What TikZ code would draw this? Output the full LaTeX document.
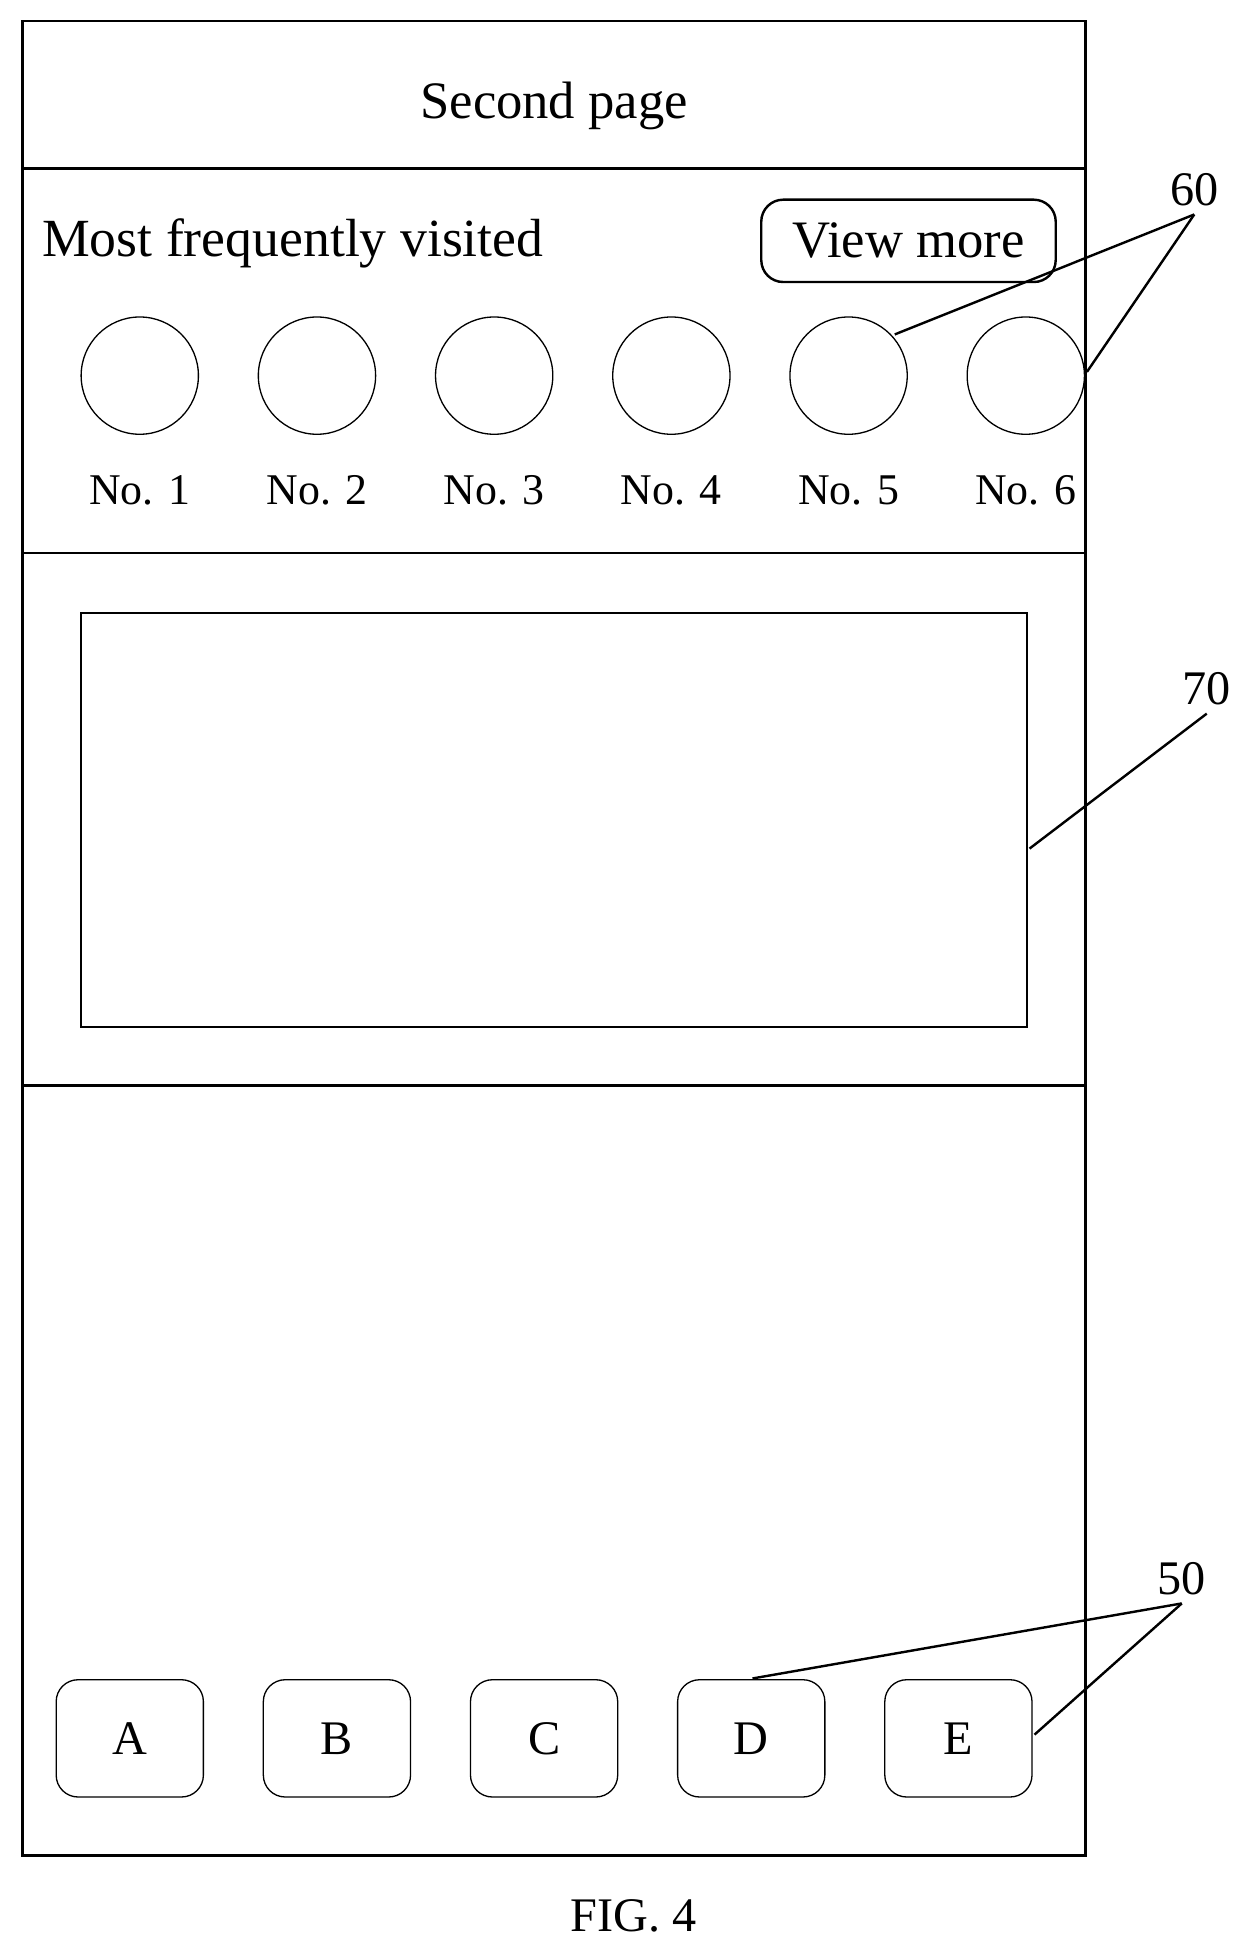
\documentclass[tikz,border=0pt]{standalone}
\usepackage{fontspec}
\setmainfont{Liberation Serif}
\usetikzlibrary{positioning}
\tikzset{
  btn/.style={draw, rounded corners=10pt, minimum width=2.36cm, minimum height=1.88cm, font=\fontsize{22}{26}\selectfont},
  icon/.style={draw, circle, minimum size=1.88cm},
  lbl/.style={font=\fontsize{20}{24}\selectfont},
}
\begin{document}
\begin{tikzpicture}[x=0.02cm, y=-0.02cm, line width=1.1pt]
  \useasboundingbox (0,0) rectangle (1000,1561);
  % frame and bands
  \draw (18,17) rectangle (870,1487);
  \draw (18,135) -- (870,135);
  \draw (18,443) -- (870,443);
  \draw (18,870) -- (870,870);
  \node[font=\fontsize{24}{28}\selectfont] (title) at (444,85) {Second page};
  \node[anchor=west, font=\fontsize{24.5}{28}\selectfont] (most) at (27,195) {Most frequently visited};
  \node[btn, minimum width=4.72cm, minimum height=1.32cm, font=\fontsize{24}{28}\selectfont] (more) at (728,193) {View more};
  % icons
  \foreach \i/\x in {1/112,2/254,3/396,4/538,5/680,6/822} {
    \node[icon, line width=0.6pt] (c\i) at (\x,301) {};
    \node[lbl] (n\i) at (\x,393) {No. \i};
  }
  % card
  \draw (65,491) rectangle (823,823);
  \coordinate (card) at (825,680);
  % buttons
  \foreach \t/\x in {A/104,B/270,C/436,D/602,E/768} {
    \node[btn, line width=0.6pt] (b\t) at (\x,1393) {\t};
  }
  % reference numerals
  \node[lbl, font=\fontsize{22}{26}\selectfont] (r60) at (957,152) {60};
  \node[lbl, font=\fontsize{22}{26}\selectfont] (r70) at (967,552) {70};
  \node[lbl, font=\fontsize{22}{26}\selectfont] (r50) at (947,1265) {50};
  \draw (r60.south) -- (717,268);
  \draw (r60.south) -- (871,298);
  \draw (r70.south) -- (card);
  \draw (r50.south) -- (603,1345);
  \draw (r50.south) -- (829,1390);
  \node[font=\fontsize{22}{26}\selectfont] (fig) at (508,1535) {FIG. 4};
\end{tikzpicture}
\end{document}
